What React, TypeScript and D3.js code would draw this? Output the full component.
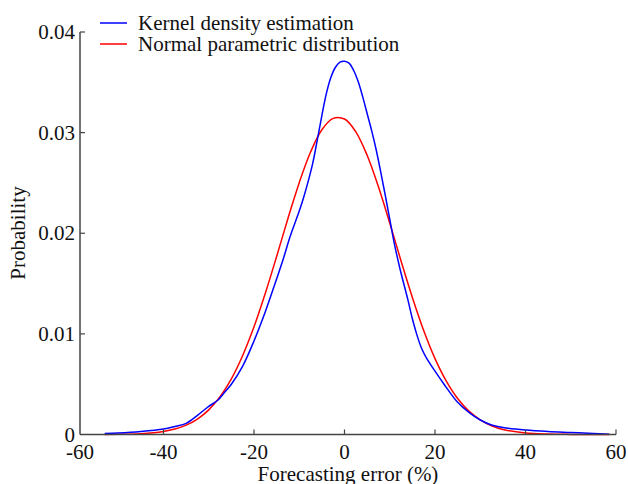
import React from 'react';
import * as d3 from 'd3';

// values
const kdeX = [-53, -50, -45, -40, -37.5, -35, -32.5, -30, -28, -26.5, -25, -22.5, -20, -17.5, -15.5, -13.5, -12, -10, -9, -8, -7, -6, -5, -4, -3, -2, -1, 0, 1, 2, 3, 4, 5, 6, 7, 8, 9, 10, 11, 12.3, 14, 15, 16, 17, 18, 20, 22, 25, 27.5, 30, 32.5, 35, 40, 45, 50, 55, 58.5];
const kdeY = [0.0001, 0.00015, 0.0003, 0.00055, 0.0008, 0.0011, 0.0019, 0.0028, 0.0034, 0.0042, 0.005, 0.0068, 0.0093, 0.0122, 0.0148, 0.0175, 0.0197, 0.0222, 0.0236, 0.0252, 0.027, 0.0293, 0.0317, 0.0339, 0.0355, 0.0365, 0.037, 0.0371, 0.0369, 0.0362, 0.0351, 0.0336, 0.0319, 0.0302, 0.0283, 0.0261, 0.0238, 0.0214, 0.019, 0.0164, 0.0134, 0.0115, 0.0099, 0.0086, 0.0077, 0.0063, 0.005, 0.0032, 0.0022, 0.00144, 0.00095, 0.0007, 0.00045, 0.0003, 0.0002, 0.0001, 0.00003];

const normX = [-53, -50, -45, -40, -37.5, -35, -32.5, -30, -27.5, -25, -22.5, -20, -17.5, -15, -12.5, -10, -7.5, -5, -2.5, 0, 2.5, 5, 7.5, 10, 12.5, 15, 17.5, 20, 22.5, 25, 27.5, 30, 32.5, 35, 40, 45, 50, 55, 58.5];
const normY = [0.00001, 0.00002, 0.00008, 0.0003, 0.00054, 0.00093, 0.00154, 0.00245, 0.00376, 0.00553, 0.00785, 0.0107, 0.01403, 0.01769, 0.02147, 0.02503, 0.02807, 0.03029, 0.03142, 0.03135, 0.03008, 0.02775, 0.02462, 0.02102, 0.01724, 0.01362, 0.01033, 0.00754, 0.0053, 0.00357, 0.00232, 0.00145, 0.00087, 0.0005, 0.00015, 0.00004, 0.00001, 0.000003, 0.000001];

const xTicks = [-60, -40, -20, 0, 20, 40, 60];
const yTicks = [0, 0.01, 0.02, 0.03, 0.04];
const yTickLabels = ['0', '0.01', '0.02', '0.03', '0.04'];
const legendLabels = ['Kernel density estimation', 'Normal parametric distribution'];
const colors = ['#0000ff', '#ff0000'];

const width = 628;
const height = 484;
const axisLeft = 80;
const font = '"Liberation Serif", "Times New Roman", serif';

export default function App() {
  const x = d3.scaleLinear().domain([-60, 60]).range([73, 616]);
  const y = d3.scaleLinear().domain([0, 0.04]).range([434.5, 32]);

  const line = d3
    .line<[number, number]>()
    .x((d) => x(d[0]))
    .y((d) => y(d[1]))
    .curve(d3.curveCatmullRom.alpha(0.5));

  const kde = kdeX.map((v, i) => [v, kdeY[i]] as [number, number]);
  const norm = normX.map((v, i) => [v, normY[i]] as [number, number]);

  const axisColor = '#444';

  return (
    <svg
      width={width}
      height={height}
      style={{ position: 'absolute', left: 0, top: 0, background: '#fff' }}
      fontFamily={font}
    >
      {/* curves */}
      <path d={line(norm) ?? ''} fill="none" stroke={colors[1]} strokeWidth={1.5} />
      <path d={line(kde) ?? ''} fill="none" stroke={colors[0]} strokeWidth={1.5} />

      {/* axes */}
      <line x1={axisLeft} x2={x(60)} y1={y(0)} y2={y(0)} stroke={axisColor} strokeWidth={1.5} />
      <line x1={axisLeft} x2={axisLeft} y1={y(0)} y2={y(0.04)} stroke={axisColor} strokeWidth={1.5} />

      {xTicks.map((t) => (
        <g key={t}>
          {t !== -60 && (
            <line x1={x(t)} x2={x(t)} y1={y(0)} y2={y(0) - 5} stroke={axisColor} strokeWidth={1.2} />
          )}
          <text
            x={t === -60 ? axisLeft : x(t)}
            y={459}
            fontSize={21}
            textAnchor="middle"
            fill="#111"
          >
            {t}
          </text>
        </g>
      ))}

      {yTicks.map((t, i) => (
        <g key={t}>
          {t !== 0 && (
            <line x1={axisLeft} x2={axisLeft + 5} y1={y(t)} y2={y(t)} stroke={axisColor} strokeWidth={1.2} />
          )}
          <text x={75} y={y(t) + 7} fontSize={21} textAnchor="end" fill="#111">
            {yTickLabels[i]}
          </text>
        </g>
      ))}

      <text x={348} y={481} fontSize={21} textAnchor="middle" fill="#111">
        Forecasting error (%)
      </text>
      <text
        transform="translate(25,233) rotate(-90)"
        fontSize={21}
        textAnchor="middle"
        fill="#111"
      >
        Probability
      </text>

      {/* legend */}
      {legendLabels.map((l, i) => (
        <g key={l} transform={`translate(0,${23 + i * 21})`}>
          <line x1={100} x2={127} y1={0} y2={0} stroke={colors[i]} strokeWidth={1.5} />
          <text x={138} y={6.5} fontSize={21} fill="#111">
            {l}
          </text>
        </g>
      ))}
    </svg>
  );
}
